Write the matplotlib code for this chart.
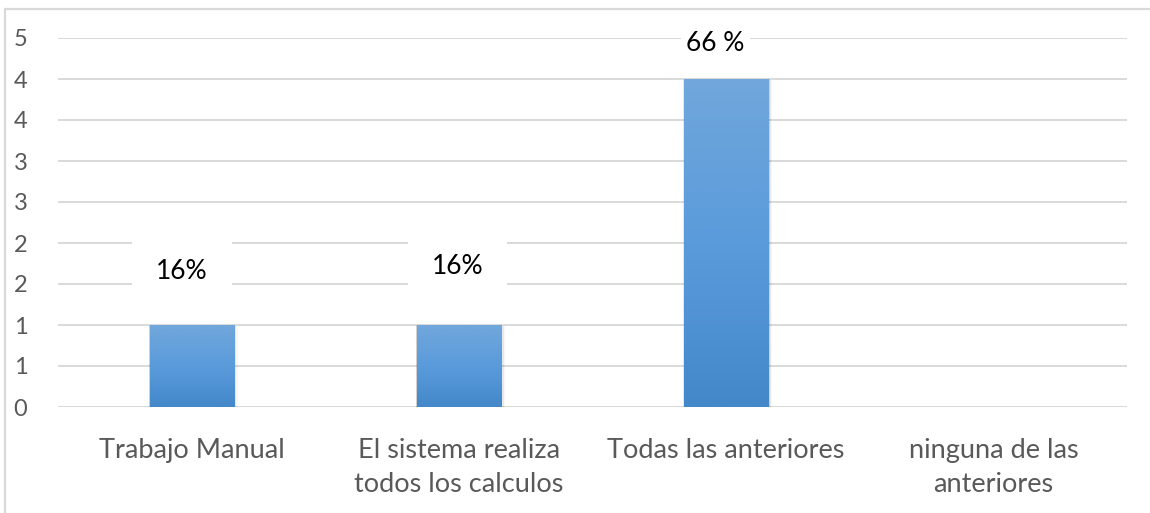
import matplotlib
matplotlib.use('Agg')
import matplotlib.pyplot as plt
from matplotlib.patches import Rectangle
from matplotlib.colors import LinearSegmentedColormap
import numpy as np

plt.rcParams['font.family'] = ['Lato', 'DejaVu Sans']

categories = ['Trabajo Manual', 'El sistema realiza\ntodos los calculos',
              'Todas las anteriores', 'ninguna de las\nanteriores']
values = [1, 1, 4, 0]
pct_labels = ['16%', '16%', '66 %', '']
label_x = [-0.036, -0.005, -0.04, None]   # labels were dragged by hand above the bars
label_y = [1.65, 1.71, 4.43, None]
label_pad = [0.9, 0.9, 0.2, None]
y_ticks = [0, 0.5, 1, 1.5, 2, 2.5, 3, 3.5, 4, 4.5]
y_ticklabels = ['0', '1', '1', '2', '2', '3', '3', '4', '4', '5']

W, H = 1150, 513
fig = plt.figure(figsize=(W / 100, H / 100), dpi=100)
ax = fig.add_axes([58 / W, (H - 407) / H, (1127 - 58) / W, (407 - 38) / H])

grid_c = '#D9D9D9'
txt_c = '#595959'

# chart area frame (only left and top edges fall inside the image)
fig.patches.append(Rectangle((5 / W, -0.1), 1.2, (H - 9) / H + 0.1,
                             transform=fig.transFigure, fill=False,
                             edgecolor=grid_c, linewidth=1.6, zorder=0))

x = np.arange(len(categories))
bar_w = 0.315
bars = ax.bar(x, values, width=bar_w, color='#5B9BD5', zorder=3)

# vertical gradient fill plus a soft drop shadow
cmap = LinearSegmentedColormap.from_list('bar', ['#4488CA', '#5A9BDB', '#71A7DB'])
grad = np.linspace(0, 1, 256).reshape(-1, 1)
for b in bars:
    h = b.get_height()
    if h <= 0:
        continue
    x0 = b.get_x()
    for k, a in enumerate([0.10, 0.06, 0.03]):
        off = 0.004 * (k + 1)
        ax.add_patch(Rectangle((x0 - off * 0.3, -0.015 * (k + 1)), bar_w + off * 1.6, h + 0.01 * (k + 1),
                               facecolor='black', alpha=a, edgecolor='none', zorder=2))
    ax.imshow(grad, cmap=cmap, aspect='auto', origin='lower', interpolation='bilinear',
              extent=[x0, x0 + bar_w, 0, h], zorder=7)

# white label boxes hide the gridlines but stay under the bars
for xi, lab, lx, ly, pad in zip(x, pct_labels, label_x, label_y, label_pad):
    if not lab:
        continue
    ax.text(xi + lx, ly, lab, ha='center', va='center', fontsize=19, color='black', zorder=6,
            bbox=dict(boxstyle=f'square,pad={pad}', facecolor='white', edgecolor='none'))

ax.set_xlim(-0.5, 3.5)
ax.set_ylim(0, 4.5)
ax.set_yticks(y_ticks)
ax.set_yticklabels(y_ticklabels)
ax.set_xticks(x)
ax.set_xticklabels(categories, linespacing=1.45)
ax.yaxis.grid(True, color=grid_c, linewidth=1.4, zorder=0)
ax.set_axisbelow(True)
for s in ax.spines.values():
    s.set_visible(False)
ax.tick_params(axis='y', length=0, pad=22, labelsize=17, labelcolor=txt_c)
ax.tick_params(axis='x', length=0, pad=22, labelsize=19.5, labelcolor=txt_c)

fig.savefig('out.png', dpi=100, facecolor='white')
